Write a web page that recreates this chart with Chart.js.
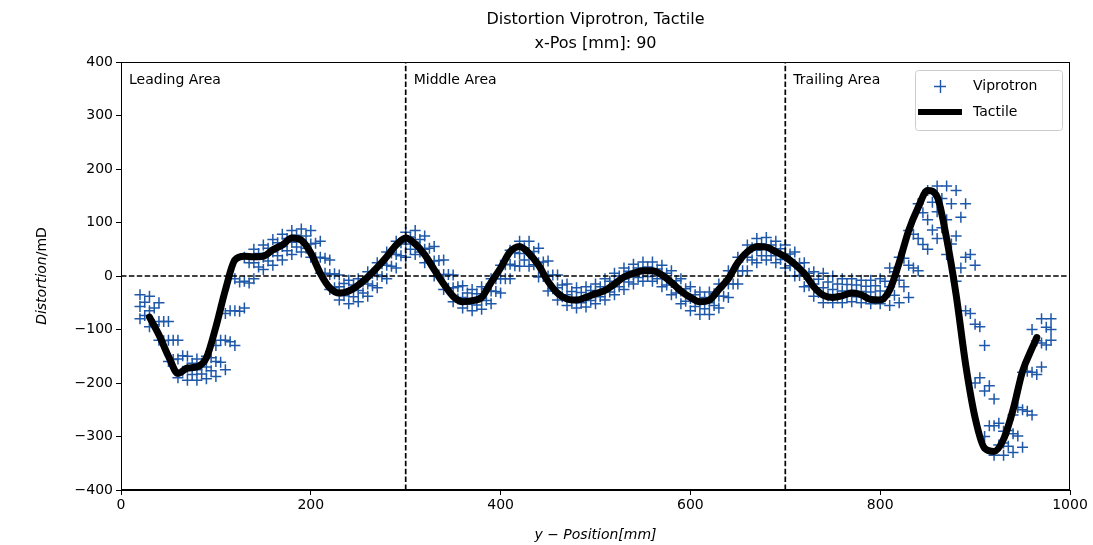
<!DOCTYPE html>
<html>
<head>
<meta charset="utf-8">
<script src="https://cdn.jsdelivr.net/npm/chart.js@4"></script>
<style>
  body { margin: 0; background: #fff; }
  #wrap { width: 1093px; height: 545px; }
</style>
</head>
<body>
<div id="wrap"><canvas id="distChart" width="1093" height="545"></canvas></div>
<script>
// Tactile measurement, y-Position [mm] and distortion [mD]
const tacX = [30, 40, 50, 60, 70, 80, 90, 100, 110, 120, 130, 140, 150, 160, 170, 180, 190, 200, 210, 220,
    230, 240, 250, 260, 270, 280, 290, 300, 310, 320, 330, 340, 350, 360, 370, 380, 390, 400, 410, 420,
    430, 440, 450, 460, 470, 480, 490, 500, 510, 520, 530, 540, 550, 560, 570, 580, 590, 600, 610, 620,
    630, 640, 650, 660, 670, 680, 690, 700, 710, 720, 730, 740, 750, 760, 770, 780, 790, 800, 810, 820,
    830, 840, 850, 860, 870, 880, 890, 900, 910, 920, 930, 940, 950, 960, 965];
const tacY = [-77, -110, -150, -182, -172, -170, -153, -95, -26, 30, 37, 36, 37, 49, 58, 71, 67, 43, 5, -22,
    -32, -28, -17, -2, 16, 36, 58, 71, 60, 40, 12, -15, -38, -48, -46, -40, -12, 15, 45, 55,
    42, 20, -10, -32, -43, -45, -40, -33, -27, -15, -2, 5, 10, 10, 2, -12, -28, -40, -48, -45,
    -25, -5, 25, 45, 55, 54, 45, 36, 22, 5, -20, -36, -40, -37, -32, -35, -44, -45, -26, 25,
    85, 128, 160, 148, 70, -35, -165, -265, -322, -328, -305, -250, -178, -135, -115];

// Viprotron measurement: band of points, outer rows at vipX
const vipX = [20, 30, 40, 50, 60, 70, 80, 90, 100, 110, 120, 130, 140, 150, 160, 170, 180, 190, 200, 210,
    220, 230, 240, 250, 260, 270, 280, 290, 300, 310, 320, 330, 340, 350, 360, 370, 380, 390, 400, 410,
    420, 430, 440, 450, 460, 470, 480, 490, 500, 510, 520, 530, 540, 550, 560, 570, 580, 590, 600, 610,
    620, 630, 640, 650, 660, 670, 680, 690, 700, 710, 720, 730, 740, 750, 760, 770, 780, 790, 800, 810,
    820, 830, 840, 850, 860, 870, 880, 890, 900, 910, 920, 930, 940, 950, 960, 970, 980];
const vipUpper = [-35, -38, -50, -85, -120, -150, -155, -150, -130, -70, -5, 35, 50, 58, 68, 78, 85, 88, 85, 65,
    30, 2, -8, -5, 8, 25, 45, 65, 82, 85, 75, 55, 30, 2, -18, -25, -20, -5, 20, 48,
    65, 65, 52, 28, 2, -15, -22, -20, -15, -5, 5, 15, 22, 26, 26, 20, 10, -5, -20, -30,
    -30, -15, 10, 35, 58, 70, 72, 65, 58, 45, 25, 8, 5, 0, -5, -5, -8, -8, -5, 15,
    35, 85, 135, 160, 168, 168, 160, 135, 20, -130, -230, -290, -260, -180, -100, -80, -80];
const vipMid = [-57, -65, -85, -120, -155, -172, -175, -170, -160, -120, -65, -10, 25, 35, 45, 55, 63, 67, 60, 35,
    3, -20, -30, -27, -15, 2, 20, 40, 60, 63, 50, 28, 3, -22, -40, -45, -42, -28, -5, 22,
    42, 42, 25, 0, -22, -35, -42, -40, -33, -25, -15, -5, 3, 8, 8, 0, -12, -28, -42, -50,
    -50, -38, -15, 10, 35, 48, 50, 45, 37, 22, 3, -15, -22, -25, -28, -27, -29, -30, -28, -20,
    -8, 20, 70, 105, 120, 105, 75, 35, -90, -215, -280, -312, -295, -250, -180, -125, -100];
const vipLower = [-80, -95, -120, -160, -190, -195, -195, -192, -188, -175, -130, -60, -5, 12, 20, 30, 40, 45, 35, 5,
    -25, -45, -52, -48, -38, -22, -5, 15, 35, 40, 25, 0, -25, -48, -60, -65, -62, -52, -32, -5,
    18, 18, -2, -28, -45, -55, -60, -58, -52, -45, -35, -25, -15, -10, -10, -20, -35, -52, -65, -72,
    -72, -60, -40, -15, 10, 25, 30, 25, 15, 0, -20, -38, -50, -50, -50, -48, -50, -52, -52, -55,
    -50, -40, 10, 50, 70, 40, -10, -65, -200, -300, -335, -335, -330, -320, -260, -170, -120];

// Viprotron inner rows
const vipX2 = [25, 35, 45, 55, 65, 75, 85, 95, 105, 115, 125, 135, 145, 155, 165, 175, 185, 195, 205, 215,
    225, 235, 245, 255, 265, 275, 285, 295, 305, 315, 325, 335, 345, 355, 365, 375, 385, 395, 405, 415,
    425, 435, 445, 455, 465, 475, 485, 495, 505, 515, 525, 535, 545, 555, 565, 575, 585, 595, 605, 615,
    625, 635, 645, 655, 665, 675, 685, 695, 705, 715, 725, 735, 745, 755, 765, 775, 785, 795, 805, 815,
    825, 835, 845, 855, 865, 875, 885, 895, 905, 915, 925, 935, 945, 955, 965, 975];
const vipUpperIn = [-49, -60, -85, -120, -149, -163, -163, -153, -120, -65, -11, 25, 42, 52, 62, 70, 76, 75, 61, 33,
    4, -14, -17, -10, 5, 23, 43, 62, 73, 68, 52, 29, 3, -20, -32, -33, -24, -5, 21, 44,
    53, 46, 26, 2, -17, -29, -31, -27, -20, -10, 0, 9, 15, 17, 13, 5, -9, -24, -35, -40,
    -33, -15, 10, 35, 53, 60, 58, 51, 41, 24, 5, -6, -11, -15, -16, -17, -19, -18, -10, 8,
    33, 78, 118, 138, 145, 135, 110, 40, -95, -205, -275, -289, -246, -178, -121, -96];
const vipLowerIn = [-74, -91, -121, -156, -178, -184, -183, -177, -161, -123, -66, -13, 17, 28, 38, 47, 54, 52, 34, 5,
    -22, -37, -39, -32, -18, -1, 18, 38, 50, 45, 26, 2, -23, -43, -53, -54, -46, -29, -5, 19,
    30, 21, -1, -24, -39, -48, -50, -46, -39, -30, -20, -11, -3, -1, -5, -17, -32, -47, -57, -61,
    -55, -38, -15, 10, 30, 38, 38, 31, 19, 1, -18, -31, -37, -38, -38, -39, -40, -41, -39, -36,
    -20, 15, 59, 86, 90, 60, 15, -70, -190, -280, -316, -318, -299, -253, -184, -129];

const areaLabels = ['Leading Area', 'Middle Area', 'Trailing Area'];
const areaStart = [0, 300, 700];
const areaBorders = [300, 700];

const vipPoints = [];
vipX.forEach((x, i) => {
    vipPoints.push({ x: x, y: vipUpper[i] });
    vipPoints.push({ x: x, y: vipMid[i] });
    vipPoints.push({ x: x, y: vipLower[i] });
});
vipX2.forEach((x, i) => {
    vipPoints.push({ x: x, y: vipUpperIn[i] });
    vipPoints.push({ x: x, y: vipLowerIn[i] });
});

const vipColor = '#1f58a8';
const dashed = [5.5, 2.4];

const dashDatasets = areaBorders.map(b => ({
    label: 'border',
    data: [{ x: b, y: -400 }, { x: b, y: 400 }],
    showLine: true,
    borderColor: '#000',
    borderWidth: 1.7,
    borderDash: dashed,
    pointRadius: 0,
    order: 0
}));
dashDatasets.push({
    label: 'zero',
    data: [{ x: 0, y: 0 }, { x: 1000, y: 0 }],
    showLine: true,
    borderColor: '#000',
    borderWidth: 1.7,
    borderDash: dashed,
    pointRadius: 0,
    order: 0
});

const decor = {
    id: 'decor',
    afterDatasetsDraw(chart) {
        const { ctx, chartArea, scales } = chart;
        ctx.save();
        // frame
        ctx.strokeStyle = '#000';
        ctx.lineWidth = 1;
        ctx.strokeRect(chartArea.left + 0.5, chartArea.top + 0.5, chartArea.width - 1, chartArea.height - 1);

        // area names
        ctx.fillStyle = '#000';
        ctx.font = '14px "DejaVu Sans"';
        ctx.textBaseline = 'alphabetic';
        ctx.textAlign = 'left';
        areaLabels.forEach((t, i) => {
            ctx.fillText(t, scales.x.getPixelForValue(areaStart[i]) + 8, chartArea.top + 22);
        });

        // legend
        const lx = 915, ly = 70, lw = 147, lh = 60;
        ctx.fillStyle = 'rgba(255,255,255,0.8)';
        ctx.strokeStyle = '#cccccc';
        ctx.beginPath();
        ctx.roundRect(lx + 0.5, ly + 0.5, lw, lh, 3);
        ctx.fill();
        ctx.stroke();
        ctx.strokeStyle = vipColor;
        ctx.lineWidth = 1.4;
        ctx.beginPath();
        ctx.moveTo(934, 86.5); ctx.lineTo(946, 86.5);
        ctx.moveTo(940.5, 80); ctx.lineTo(940.5, 93);
        ctx.stroke();
        ctx.strokeStyle = '#000';
        ctx.lineWidth = 6;
        ctx.beginPath();
        ctx.moveTo(918, 112); ctx.lineTo(962, 112);
        ctx.stroke();
        ctx.fillStyle = '#000';
        ctx.textBaseline = 'middle';
        ctx.fillText('Viprotron', 973, 86);
        ctx.fillText('Tactile', 973, 112);

        // title
        const cx = (chartArea.left + chartArea.right) / 2;
        ctx.textAlign = 'center';
        ctx.textBaseline = 'middle';
        ctx.font = '16px "DejaVu Sans"';
        ctx.fillText('Distortion Viprotron, Tactile', cx, 20);
        ctx.fillText('x-Pos [mm]: 90', cx, 44);

        // axis titles
        ctx.font = 'italic 14px "DejaVu Sans"';
        ctx.fillText('y \u2212 Position[mm]', cx, 535);
        ctx.save();
        ctx.translate(42, (chartArea.top + chartArea.bottom) / 2);
        ctx.rotate(-Math.PI / 2);
        ctx.font = 'italic 14px "DejaVu Sans"';
        const w1 = ctx.measureText('Distortion').width;
        ctx.font = '14px "DejaVu Sans"';
        const w2 = ctx.measureText('/mD').width;
        ctx.textAlign = 'left';
        ctx.font = 'italic 14px "DejaVu Sans"';
        ctx.fillText('Distortion', -(w1 + w2) / 2, 0);
        ctx.font = '14px "DejaVu Sans"';
        ctx.fillText('/mD', -(w1 + w2) / 2 + w1, 0);
        ctx.restore();
        ctx.restore();
    }
};

new Chart(document.getElementById('distChart').getContext('2d'), {
    type: 'scatter',
    data: {
        datasets: [
            ...dashDatasets,
            {
                label: 'Tactile',
                data: tacX.map((x, i) => ({ x: x, y: tacY[i] })),
                showLine: true,
                borderColor: '#000',
                borderWidth: 7,
                cubicInterpolationMode: 'monotone',
                pointRadius: 0,
                borderCapStyle: 'round',
                borderJoinStyle: 'round',
                order: 1
            },
            {
                label: 'Viprotron',
                data: vipPoints,
                pointStyle: 'cross',
                pointRadius: 5.5,
                borderWidth: 1.5,
                borderColor: vipColor,
                backgroundColor: vipColor,
                order: 2
            }
        ]
    },
    options: {
        responsive: false,
        animation: false,
        layout: { padding: { top: 62, right: 23, left: 0, bottom: 0 } },
        plugins: {
            legend: { display: false },
            tooltip: { enabled: false },
            title: { display: false }
        },
        scales: {
            x: {
                type: 'linear',
                min: 0,
                max: 1000,
                afterFit: s => { s.height = 55; },
                ticks: { stepSize: 200, color: '#000', font: { family: 'DejaVu Sans', size: 14 }, padding: 2, maxRotation: 0,
                    callback: v => String(v) },
                grid: { display: true, drawOnChartArea: false, drawTicks: true, tickLength: 5, color: '#000' },
                border: { color: '#000' }
            },
            y: {
                min: -400,
                max: 400,
                afterFit: s => { s.width = 121; },
                ticks: { stepSize: 100, color: '#000', font: { family: 'DejaVu Sans', size: 14 }, padding: 3,
                    callback: v => String(v).replace('-', '\u2212') },
                grid: { display: true, drawOnChartArea: false, drawTicks: true, tickLength: 5, color: '#000' },
                border: { color: '#000' }
            }
        }
    },
    plugins: [decor]
});
</script>
</body>
</html>
